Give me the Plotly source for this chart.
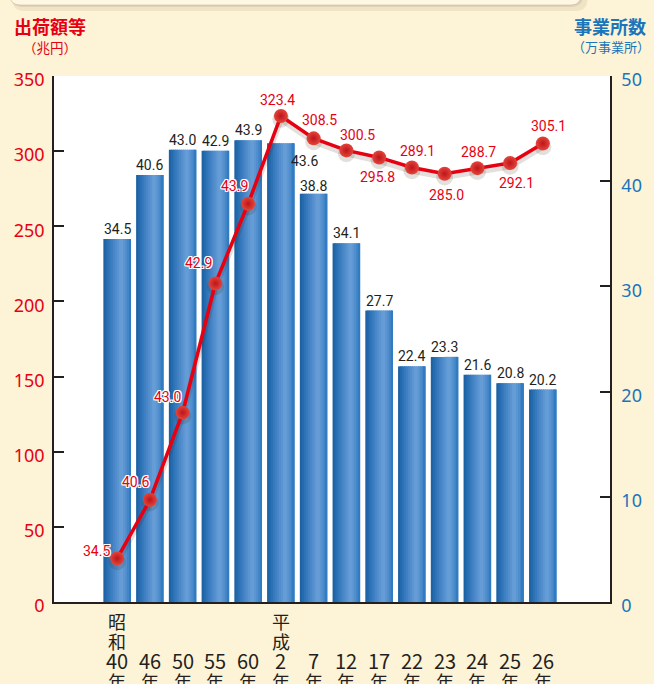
import numpy as np
import plotly.graph_objects as go

# ---------------- data ----------------
era_labels = ["昭和", "", "", "", "", "平成", "", "", "", "", "", "", "", ""]
year_labels = ["40", "46", "50", "55", "60", "2", "7", "12", "17", "22", "23", "24", "25", "26"]
categories = [e + y + "年" for e, y in zip(era_labels, year_labels)]

# 事業所数（万事業所） - bars, right axis
establishments = [34.5, 40.6, 43.0, 42.9, 43.9, 43.6, 38.8, 34.1, 27.7, 22.4, 23.3, 21.6, 20.8, 20.2]
# 出荷額等（兆円） - line, left axis
shipments = [29, 68, 126, 212, 265, 323.4, 308.5, 300.5, 295.8, 289.1, 285.0, 288.7, 292.1, 305.1]
# labels printed next to the line points (as printed in the original)
shipment_labels = ["34.5", "40.6", "43.0", "42.9", "43.9", "323.4", "308.5", "300.5",
                   "295.8", "289.1", "285.0", "288.7", "292.1", "305.1"]

left_ticks = [0, 50, 100, 150, 200, 250, 300, 350]
right_ticks = [0, 10, 20, 30, 40, 50]

# ---------------- style ----------------
RED = "#e60012"
BLUE = "#1a75bb"
INK = "#231f20"
CREAM = "#fdf3d6"
NUMFONT = "Roboto"
JPFONT = "Noto Sans CJK JP"

W, H = 654, 684
ML, MR, MT, MB = 54, 37, 76, 82
PW, PH = W - ML - MR, H - MT - MB

fig = go.Figure()

# bars with a horizontal gradient built from narrow strips
BAR_W = 0.845
N = 14
stops = [0.0, 0.12, 0.4, 0.65, 0.85, 1.0]
cols = np.array([[0x1a, 0x5e, 0x9c], [0x25, 0x6c, 0xb0], [0x4a, 0x88, 0xc9],
                 [0x6a, 0xa0, 0xd8], [0x4c, 0x8b, 0xcb], [0x28, 0x77, 0xbd]], float)
sw = BAR_W / N
for k in range(N):
    t = (k + 0.5) / N
    c = [int(round(np.interp(t, stops, cols[:, j]))) for j in range(3)]
    fig.add_trace(go.Bar(
        x=categories, y=establishments, yaxis="y",
        width=sw * (1.7 if k < N - 1 else 1.0),
        offset=-BAR_W / 2 + k * sw,
        marker=dict(color="rgb(%d,%d,%d)" % tuple(c), line=dict(width=0)),
        showlegend=False, hoverinfo="skip",
    ))

# soft shadow of the line (same data, axis shifted a few px)
fig.add_trace(go.Scatter(
    x=categories, y=shipments, yaxis="y2", mode="lines+markers",
    line=dict(color="rgba(60,40,20,0.15)", width=6),
    marker=dict(size=17, color="rgba(60,40,20,0.15)"),
    showlegend=False, hoverinfo="skip",
))

# the red line
fig.add_trace(go.Scatter(
    x=categories, y=shipments, yaxis="y3", mode="lines+markers",
    line=dict(color=RED, width=3.5),
    marker=dict(size=14, color="#e4453b", line=dict(width=0),
                gradient=dict(type="radial", color="#bd151b")),
    showlegend=False, hoverinfo="skip",
))

annotations = []
halo = ("1px 1px 0 #fff, -1px -1px 0 #fff, 1px -1px 0 #fff, -1px 1px 0 #fff, "
        "0 1px 0 #fff, 0 -1px 0 #fff, 1px 0 0 #fff, -1px 0 0 #fff")

# bar value labels
bar_shift = [(0, 10)] * 14
bar_shift[5] = (24, -18)
bar_shift[6] = (0, 8)
for cat, v, (dx, dy) in zip(categories, establishments, bar_shift):
    annotations.append(dict(
        x=cat, y=v, xref="x", yref="y", text="%.1f" % v, showarrow=False,
        xanchor="center", yanchor="middle", xshift=dx, yshift=dy,
        font=dict(family=NUMFONT, size=14, color=INK),
    ))

# line value labels (screen offsets dx, dy; dy positive = down)
line_off = [(-21, -7), (-14, -18), (-15, -16), (-17, -20), (-14, -18), (-3, -16), (6, -18),
            (11, -15), (-2, 20), (6, -17), (2, 21), (1, -16), (6, 20), (6, -17)]
for cat, v, lab, (dx, dy) in zip(categories, shipments, shipment_labels, line_off):
    annotations.append(dict(
        x=cat, y=v, xref="x", yref="y3", text=lab, showarrow=False,
        xanchor="center", yanchor="middle", xshift=dx, yshift=-dy,
        font=dict(family=NUMFONT, size=14, color=RED, shadow=halo),
    ))

# x category labels, written vertically
for cat, era, yr in zip(categories, era_labels, year_labels):
    rows = []
    if era:
        rows += [(era[0], 19, 18), (era[1], 39, 18)]
    rows += [(yr, 58, 20), ("年", 79, 18)]
    for txt, off, sz in rows:
        annotations.append(dict(
            x=cat, y=0, xref="x", yref="y", text=txt, showarrow=False,
            xanchor="center", yanchor="middle", yshift=-off,
            font=dict(family=JPFONT, size=sz, color=INK),
        ))

# axis titles
def px(xp):
    return (xp - ML) / PW

def py(yp):
    return (H - MB - yp) / PH

annotations += [
    dict(x=px(50), y=py(26), xref="paper", yref="paper", text="<b>出荷額等</b>", showarrow=False,
         xanchor="center", yanchor="middle", font=dict(family=JPFONT, size=18, color=RED)),
    dict(x=px(50), y=py(47), xref="paper", yref="paper", text="（兆円）", showarrow=False,
         xanchor="center", yanchor="middle", font=dict(family=JPFONT, size=13.5, color=RED)),
    dict(x=px(579), y=py(26), xref="paper", yref="paper", text="<b>事業所数</b>", showarrow=False,
         xanchor="left", yanchor="middle", font=dict(family=JPFONT, size=18, color=BLUE)),
    dict(x=px(576), y=py(47), xref="paper", yref="paper", text="（万事業所）", showarrow=False,
         xanchor="left", yanchor="middle", font=dict(family=JPFONT, size=13, color=BLUE)),
]

# decorative box at the top of the page
def rounded(x0, y0, x1, y1, r):
    P = lambda X, Y: "%.5f,%.5f" % (px(X), py(Y))
    return ("M " + P(x0 + r, y0) + " L " + P(x1 - r, y0) + " Q " + P(x1, y0) + " " + P(x1, y0 + r) +
            " L " + P(x1, y1 - r) + " Q " + P(x1, y1) + " " + P(x1 - r, y1) +
            " L " + P(x0 + r, y1) + " Q " + P(x0, y1) + " " + P(x0, y1 - r) +
            " L " + P(x0, y0 + r) + " Q " + P(x0, y0) + " " + P(x0 + r, y0) + " Z")

shapes = [
    dict(type="path", xref="paper", yref="paper", path=rounded(12, -30, 594, 11, 12),
         fillcolor="rgba(120,100,60,0.10)", line=dict(width=0), layer="below"),
    dict(type="path", xref="paper", yref="paper", path=rounded(10, -30, 590, 7, 12),
         fillcolor="rgba(120,100,60,0.12)", line=dict(width=0), layer="below"),
    dict(type="path", xref="paper", yref="paper", path=rounded(9, -30, 588, 5, 11),
         fillcolor="#fef7e4", line=dict(color="rgba(170,150,110,0.35)", width=1), layer="below"),
]

axis_common = dict(
    showgrid=False, zeroline=False, showline=True, linecolor=INK, linewidth=1.5,
    ticks="inside", ticklen=10, tickwidth=1.5, tickcolor=INK, fixedrange=True,
    ticklabelshift=4,
)

fig.update_layout(
    width=W, height=H,
    margin=dict(l=ML, r=MR, t=MT, b=MB, pad=0),
    paper_bgcolor=CREAM, plot_bgcolor="white",
    barmode="overlay", showlegend=False,
    xaxis=dict(type="category", categoryorder="array", categoryarray=categories,
               range=[-1.93, 15.05], showgrid=False, zeroline=False, showline=True,
               linecolor=INK, linewidth=2, ticks="", showticklabels=False, fixedrange=True),
    yaxis=dict(side="right", range=[0, 50], tickvals=right_ticks, ticklabelstandoff=6,
               tickfont=dict(family="Noto Sans", size=18, color=BLUE), **axis_common),
    yaxis2=dict(overlaying="y", range=[2.2, 352.2], visible=False, fixedrange=True),
    yaxis3=dict(overlaying="y", side="left", range=[0, 350], tickvals=left_ticks,
                ticklabelstandoff=4,
                tickfont=dict(family="Noto Sans", size=18, color=RED), **axis_common),
    annotations=annotations,
    shapes=shapes,
)

fig.write_html(
    "out.html",
    config={"displayModeBar": False},
    post_script="document.body.style.margin='0';document.body.style.padding='0';"
                "document.body.style.overflow='hidden';"
                "document.documentElement.style.overflow='hidden';"
                "document.body.style.background='%s';" % CREAM,
)
